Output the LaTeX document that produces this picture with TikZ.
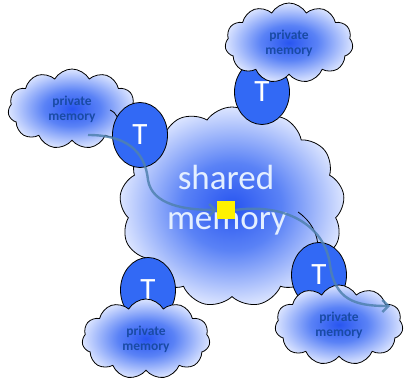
\documentclass[tikz,border=0pt]{standalone}
\usepackage{fontspec}
\setmainfont{Carlito}
\usetikzlibrary{shapes.symbols,shapes.geometric,arrows.meta}
\definecolor{cin}{RGB}{40,85,240}
\definecolor{cmid}{RGB}{90,130,246}
\definecolor{cout}{RGB}{220,229,255}
\definecolor{tblue}{RGB}{50,105,245}
\definecolor{pmtext}{RGB}{25,75,165}
\definecolor{arrowc}{RGB}{80,130,175}
\definecolor{smtext}{RGB}{228,239,255}
\pgfdeclareradialshading{cloudsh}{\pgfpoint{0bp}{0bp}}{color(0bp)=(cin); color(11bp)=(cmid); color(25bp)=(cout); color(50bp)=(cout)}
\tikzset{
  bigcloud/.style={cloud, cloud puffs=13, cloud puff arc=110, cloud ignores aspect,
    draw=black, line width=0.8pt, shading=cloudsh,
    minimum width=225pt, minimum height=200pt, inner sep=0pt},
  pcloud/.style={cloud, cloud puffs=11, cloud puff arc=120, cloud ignores aspect,
    draw=black, line width=0.8pt, shading=cloudsh,
    minimum width=128pt, minimum height=80pt, inner sep=0pt,
    font=\bfseries\fontsize{13.5}{15}\selectfont, text=pmtext, align=center},
  tnode/.style={ellipse, draw=black, line width=0.8pt, fill=tblue,
    minimum width=55pt, minimum height=65pt, inner sep=0pt,
    text=white, font=\fontsize{31}{31}\selectfont},
  smem/.style={text=smtext, font=\fontsize{35}{40}\selectfont, anchor=base},
  curl/.style={draw=black, line width=0.8pt},
  arr/.style={draw=arrowc, line width=2.4pt, opacity=0.85,
    -{Straight Barb[length=6pt,width=12pt]}}
}
\begin{document}
\begin{tikzpicture}[x=1pt,y=-1pt]
\useasboundingbox (0,0) rectangle (404,379);
\node[bigcloud] (shared) at (232,207) {};
\draw[curl] (298,212) .. controls (311,221) and (318,234) .. (318,248);
\node[pcloud] (p1) at (72,109) {private\\memory};
\draw[curl] (110,110) .. controls (117,113) and (120,120) .. (118,127);
\node[tnode] (t1) at (140,135) {T};
\node[tnode] (t2) at (262,92) {T};
\node[tnode] (t3) at (148,290) {T};
\node[tnode] (t4) at (319,275) {T};
\node[pcloud] (p2) at (289,43) {private\\memory};
\node[pcloud] (p3) at (146,339) {private\\memory};
\node[pcloud] (p4) at (339,325) {private\\memory};
\node[smem] (sh) at (226,190) {shared};
\node[smem] (me) at (227,230) {memory};
\node[fill=yellow, minimum size=18pt, inner sep=0pt] (sq) at (226,210) {};
\coordinate (a0) at (88,135);
\coordinate (a1) at (390,306);
\draw[arr] (a0) .. controls (125,135) and (145,150) .. (148,180)
  .. controls (152,205) and (185,210) .. (sq.west);
\draw[arr] (sq.east) .. controls (285,203) and (325,225) .. (330,265)
  .. controls (335,300) and (355,306) .. (a1);
\end{tikzpicture}
\end{document}
